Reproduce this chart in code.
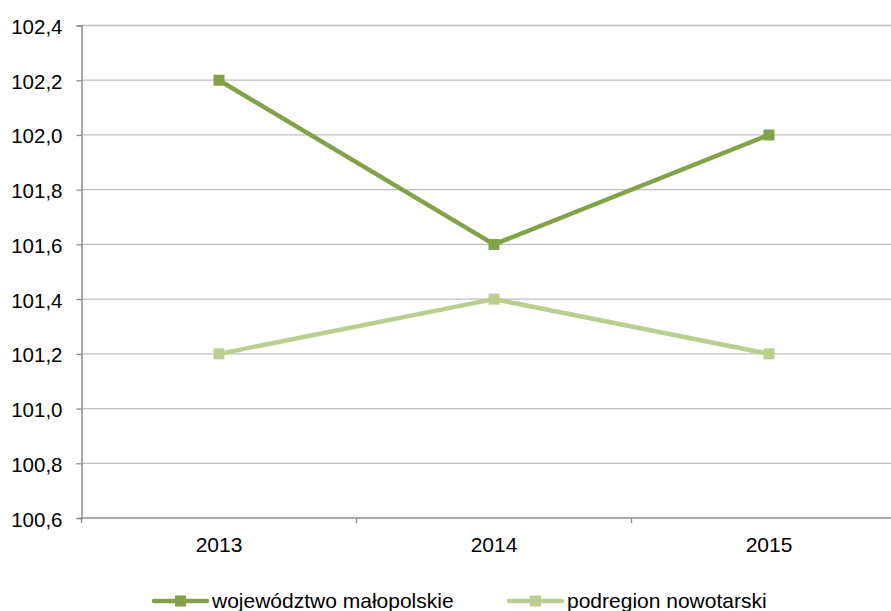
<!DOCTYPE html>
<html>
<head>
<meta charset="utf-8">
<script src="https://cdn.jsdelivr.net/npm/d3@7"></script>
<style>
  body { margin: 0; background: #fff; }
  svg text { font-family: "Liberation Sans", Arial, sans-serif; fill: #000; }
</style>
</head>
<body>
<div id="chart-area"></div>
<script>
const years = ["2013", "2014", "2015"];
const malopolskie = [102.2, 101.6, 102.0];
const nowotarski = [101.2, 101.4, 101.2];
const yTicks = [100.6, 100.8, 101.0, 101.2, 101.4, 101.6, 101.8, 102.0, 102.2, 102.4];

const series = [
  { name: "województwo małopolskie", values: malopolskie, color: "#82a24a" },
  { name: "podregion nowotarski", values: nowotarski, color: "#b8cf90" }
];

const chartSize = { width: 891, height: 611 };
const margin = { left: 81.5, top: 25.5 };
const plotWidth = 825;
const plotHeight = 492.5;

const svg = d3
  .select("#chart-area")
  .append("svg")
  .attr("width", chartSize.width)
  .attr("height", chartSize.height);

const g = svg
  .append("g")
  .attr("transform", `translate(${margin.left},${margin.top})`);

const x = d3
  .scaleBand()
  .domain(years)
  .range([0, plotWidth]);

const y = d3
  .scaleLinear()
  .domain([100.6, 102.4])
  .range([plotHeight, 0]);

const fmt = d => d3.format(".1f")(d).replace(".", ",");

// gridlines
g.append("g")
  .selectAll("line")
  .data(yTicks.slice(1))
  .enter()
  .append("line")
  .attr("x1", 0)
  .attr("x2", plotWidth)
  .attr("y1", d => y(d))
  .attr("y2", d => y(d))
  .attr("stroke", "#bfbfbf")
  .attr("stroke-width", 1.3);

// y axis
const yAxis = d3
  .axisLeft(y)
  .tickValues(yTicks)
  .tickFormat(fmt)
  .tickSize(5)
  .tickPadding(14);

const yg = g.append("g").call(yAxis);
yg.select(".domain").attr("stroke", "#8c8c8c").attr("stroke-width", 1.5);
yg.selectAll(".tick line").attr("stroke", "#8c8c8c").attr("stroke-width", 1.3);
yg.selectAll("text")
  .attr("font-size", 20.5)
  .attr("dy", null)
  .attr("y", 8);

// x axis: ticks between categories
const bounds = years.map(d => x(d) + x.bandwidth()).slice(0, -1);
const xg = g.append("g").attr("transform", `translate(0,${plotHeight})`);
xg.append("line")
  .attr("x1", 0)
  .attr("x2", plotWidth)
  .attr("stroke", "#8c8c8c")
  .attr("stroke-width", 1.5);
xg.selectAll(".sep")
  .data([0].concat(bounds))
  .enter()
  .append("line")
  .attr("x1", d => d)
  .attr("x2", d => d)
  .attr("y1", 0)
  .attr("y2", 5)
  .attr("stroke", "#8c8c8c")
  .attr("stroke-width", 1.3);
xg.selectAll(".lbl")
  .data(years)
  .enter()
  .append("text")
  .attr("x", d => x(d) + x.bandwidth() / 2)
  .attr("y", 34)
  .attr("text-anchor", "middle")
  .attr("font-size", 21)
  .text(d => d);

// lines and markers
const line = d3
  .line()
  .x((v, i) => x(years[i]) + x.bandwidth() / 2)
  .y(v => y(v));

series.forEach(s => {
  g.append("path")
    .datum(s.values)
    .attr("d", line)
    .attr("fill", "none")
    .attr("stroke", s.color)
    .attr("stroke-width", 4.5)
    .attr("stroke-linejoin", "round");
  g.selectAll(null)
    .data(s.values)
    .enter()
    .append("rect")
    .attr("x", (v, i) => x(years[i]) + x.bandwidth() / 2 - 5.5)
    .attr("y", v => y(v) - 5.5)
    .attr("width", 11)
    .attr("height", 11)
    .attr("fill", s.color);
});

// legend
const legendX = [154, 509];
const legend = svg
  .selectAll(".legend")
  .data(series)
  .enter()
  .append("g")
  .attr("transform", (s, i) => `translate(${legendX[i]},601)`);
legend
  .append("line")
  .attr("x1", 0)
  .attr("x2", 53)
  .attr("stroke", s => s.color)
  .attr("stroke-width", 4.5)
  .attr("stroke-linecap", "round");
legend
  .append("rect")
  .attr("x", 21)
  .attr("y", -5.5)
  .attr("width", 11)
  .attr("height", 11)
  .attr("fill", s => s.color);
legend
  .append("text")
  .attr("x", 58)
  .attr("y", 7)
  .attr("font-size", 21)
  .text(s => s.name);
</script>
</body>
</html>
